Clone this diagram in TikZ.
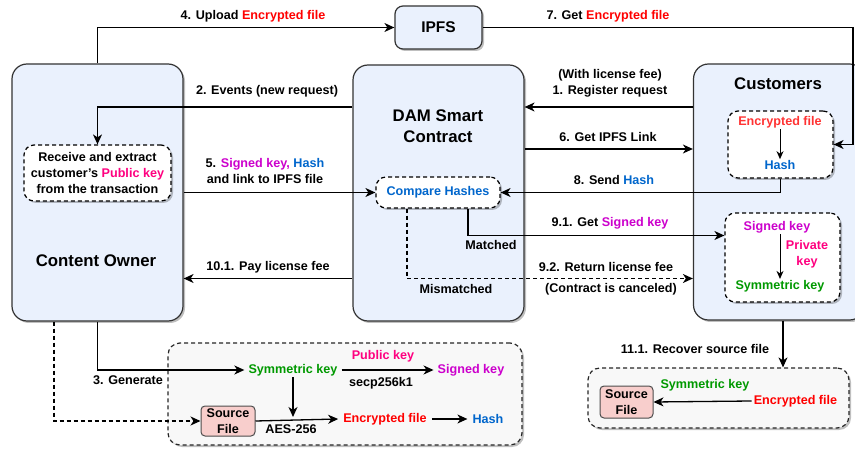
\documentclass[tikz,border=0pt]{standalone}
\usepackage{fontspec}
\setmainfont{Liberation Sans}
\usetikzlibrary{arrows.meta,shadows,calc}
\definecolor{boxblue}{HTML}{EAF1FD}
\definecolor{grayfill}{HTML}{F8F8F8}
\definecolor{srcfill}{HTML}{F8CECC}
\definecolor{encred}{HTML}{FF0000}
\definecolor{encred2}{HTML}{FF3333}
\definecolor{signedc}{HTML}{CC00CC}
\definecolor{pubkey}{HTML}{FF0080}
\definecolor{hashblue}{HTML}{0066CC}
\definecolor{symgreen}{HTML}{009900}
\newcommand{\lblfont}{\bfseries\fontsize{12.6}{16}\selectfont}
\newcommand{\ttlfont}{\bfseries\fontsize{16.8}{21}\selectfont}
\tikzset{
  shad/.style={drop shadow={shadow xshift=2pt,shadow yshift=-2pt,opacity=0.25,fill=black}},
  big/.style={draw=black!80, line width=1.2pt, fill=boxblue, rounded corners=15pt, shad},
  dbox/.style={draw=black, dash pattern=on 4pt off 3pt, line width=1.2pt, fill=white, rounded corners=10pt, shad, font=\lblfont, align=center},
  gbox/.style={draw=black!85, dash pattern=on 4pt off 3pt, line width=1.2pt, fill=grayfill, rounded corners=12pt, shad},
  srcbox/.style={draw=black!70, line width=1pt, fill=srcfill, rounded corners=4pt, font=\lblfont, align=center, inner sep=1pt},
  txt/.style={font=\lblfont, inner sep=1pt, align=center},
  ttl/.style={font=\ttlfont, inner sep=1pt, align=center},
  arr/.style={-{Stealth[length=10pt,width=9pt,inset=3pt]}, line width=1.3pt},
  sarr/.style={-{Stealth[length=8pt,width=7pt,inset=2.5pt]}, line width=1pt},
  dsh/.style={dash pattern=on 4pt off 3pt}
}
\begin{document}
\begin{tikzpicture}[x=1pt,y=-1pt]
\useasboundingbox (0,0) rectangle (855,449);
\clip (0,0) rectangle (855,449);

% main boxes
\node[big, minimum width=171pt, minimum height=257pt] (co) at (97.5,192.5) {};
\node[big, minimum width=171pt, minimum height=256pt] (dam) at (438.5,193) {};
\node[big, minimum width=171pt, minimum height=256pt] (cust) at (779,192) {};
\node[big, rounded corners=8pt, minimum width=87pt, minimum height=43pt, font=\bfseries\fontsize{15.5}{18}\selectfont] (ipfs) at (438.5,27.5) {IPFS};

\node[ttl] (coT) at (96,261) {Content Owner};
\node[ttl] (damT) at (438,126.5) {DAM Smart\\Contract};
\node[ttl] (custT) at (778,84) {Customers};

% inner boxes
\node[dbox, minimum width=147pt, minimum height=56pt, inner sep=1pt] (recv) at (97.5,173)
  {Receive and extract\\customer's \textcolor{pubkey}{Public key}\\from the transaction};
\node[dbox, minimum width=124pt, minimum height=31pt, text=hashblue] (cmp) at (438,192.5) {Compare Hashes};
\node[dbox, minimum width=105pt, minimum height=67pt] (ehbox) at (780.5,144.5) {};
\node[dbox, minimum width=115pt, minimum height=89pt] (sbox) at (782.5,257.5) {};

\node[txt, text=encred2] (ceT) at (780,122) {Encrypted file};
\node[txt, text=hashblue] (chT) at (780,165) {Hash};
\draw[sarr] (ceT.south) -- (chT.north);

\node[txt, text=signedc] (skT) at (777,227) {Signed key};
\node[txt, text=pubkey] (pkT) at (807,254.5) {Private\\key};
\node[txt, text=symgreen] (smT) at (780,286) {Symmetric key};
\draw[sarr] (skT.south -| smT.north) -- (smT.north);

% bottom-left process box
\node[gbox, minimum width=354pt, minimum height=102pt] (glb) at (345,394) {};
\node[txt, text=symgreen, inner xsep=4pt] (symk) at (293,370) {Symmetric key};
\node[txt, text=pubkey] (pub) at (383,356) {Public key};
\node[txt] (secp) at (381,383) {secp256k1};
\node[txt, text=signedc, inner xsep=4pt] (sgk) at (471,370) {Signed key};
\node[srcbox, minimum width=54pt, minimum height=30pt] (src1) at (228,421) {Source\\File};
\node[txt, text=encred, inner xsep=5pt] (enc1) at (385,419) {Encrypted file};
\node[txt, text=hashblue, inner xsep=5pt] (hash1) at (488,419) {Hash};
\node[txt] (aes) at (291,429) {AES-256};
\draw[arr] (symk.east) -- (sgk.west);
\draw[arr] (symk.south) -- ($(symk.south |- src1.east)+(0,-4)$);
\draw[arr] (src1.east) -- (enc1.west);
\draw[arr] (enc1.east) -- (hash1.west);

% bottom-right recover box
\node[gbox, minimum width=261pt, minimum height=60pt] (grb) at (718.5,398) {};
\node[srcbox, minimum width=53pt, minimum height=32pt] (src2) at (626.5,402) {Source\\File};
\node[txt, text=symgreen] (symk2) at (705,385) {Symmetric key};
\node[txt, text=encred, inner xsep=2pt] (enc2) at (795.5,401) {Encrypted file};
\draw[arr] (enc2.west) -- (src2.east);

% level coordinates
\coordinate (y1) at (0,107);
\coordinate (y6) at (0,149);
\coordinate (y91) at (0,235.5);
\coordinate (y92) at (0,278.5);
\coordinate (x91) at (468,0);
\coordinate (x92) at (407,0);
\coordinate (x3d) at (54,0);
\coordinate (x11) at (783,0);
\coordinate (c7) at (853,27.5);

% connectors
\draw[arr] (co.north) |- (ipfs.west);
\draw[arr] (ipfs.east) -- (c7) |- (ehbox.east);
\draw[arr] (cust.west |- y1) -- (dam.east |- y1);
\draw[arr] (dam.west |- y1) -| (recv.north);
\draw[arr] (dam.east |- y6) -- (cust.west |- y6);
\draw[arr] (ehbox.south) |- (cmp.east);
\draw[arr] (co.east |- cmp.west) -- (cmp.west);
\draw[arr] (cmp.south -| x91) |- (sbox.west |- y91);
\draw[arr, dsh] (cmp.south -| x92) |- (cust.west |- y92);
\draw[arr] (dam.west |- y92) -- (co.east |- y92);
\draw[arr] (co.south) |- (symk.west);
\draw[arr, dsh] (co.south -| x3d) |- (src1.west);
\draw[arr] (cust.south -| x11) -- (grb.north -| x11);

% labels
\node[txt] (l4) at (253,16) {4. Upload \textcolor{encred}{Encrypted file}};
\node[txt] (l7) at (608,16) {7. Get \textcolor{encred}{Encrypted file}};
\node[txt] (l1) at (610,83.5) {(With license fee)\\1. Register request};
\node[txt] (l2) at (267,91) {2. Events (new request)};
\node[txt] (l6) at (608,137) {6. Get IPFS Link};
\node[txt] (l5) at (265,171) {5. \textcolor{signedc}{Signed key,} \textcolor{hashblue}{Hash}\\and link to IPFS file};
\node[txt] (l8) at (614,180) {8. Send \textcolor{hashblue}{Hash}};
\node[txt] (l91) at (610,223) {9.1. Get \textcolor{signedc}{Signed key}};
\node[txt] (lm) at (491,245) {Matched};
\node[txt] (l92) at (606,267) {9.2. Return license fee};
\node[txt] (l92b) at (611,289) {(Contract is canceled)};
\node[txt] (lmm) at (456,289) {Mismatched};
\node[txt] (l10) at (268,267) {10.1. Pay license fee};
\node[txt] (l3) at (128,380) {3. Generate};
\node[txt] (l11) at (695,349) {11.1. Recover source file};
\end{tikzpicture}
\end{document}
